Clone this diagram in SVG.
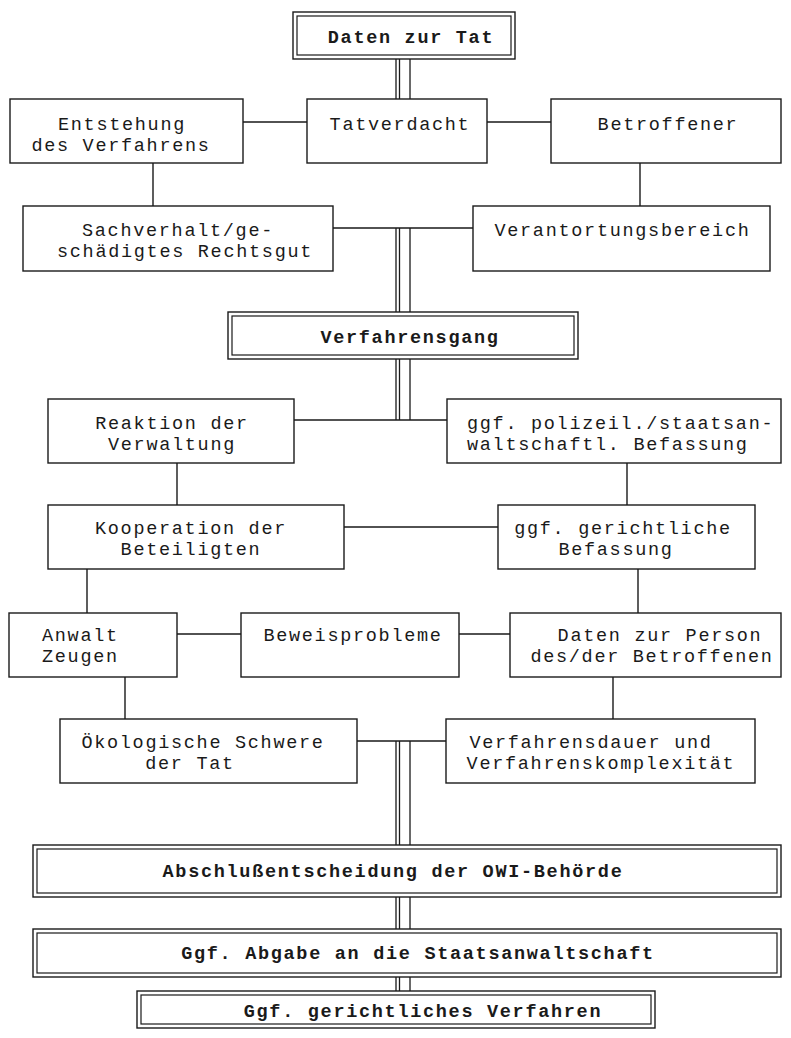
<svg xmlns="http://www.w3.org/2000/svg" width="791" height="1038" viewBox="0 0 791 1038">
<style>
.box{fill:#ffffff;stroke:#1a1a1a;stroke-width:1.4}
.in{fill:none;stroke:#1a1a1a;stroke-width:1.2}
.t{font-family:"Liberation Mono","Courier New",monospace;font-size:18.5px;letter-spacing:1.7px;fill:#1a1a1a}
.m{text-anchor:middle}
.b{font-weight:bold}
.c{stroke:#1a1a1a;stroke-width:1.4;fill:none}
.tr{stroke:#1a1a1a;stroke-width:1.3;fill:none}
</style>
<rect width="791" height="1038" fill="#ffffff"/>
<g id="connectors">
<path class="c" d="M243 122H307M487 122H551M153 163V206M640 163V206M333 228H473M294 420H447M177 463V505M627 463V505M344 527H498M87 569V613M638 569V613M177 634H241M459 634H510M125 677V719M613 677V719M357 741H446"/>
<path class="tr" d="M396 59V99M399.5 59V99M410 59V99M396 228V312M399.5 228V312M410 228V312M396 359V420M399.5 359V420M410 359V420M396 741V845M399.5 741V845M410 741V845M396 897V929M399.5 897V929M410 897V929M396 977V991M399.5 977V991M410 977V991"/>
</g>
<g id="daten-tat"><rect class="box" x="293" y="12" width="222" height="47"/><rect class="in" x="297" y="16" width="214" height="39"/><text class="t b m" x="411" y="43">Daten zur Tat</text></g>
<g id="entstehung"><rect class="box" x="10" y="99" width="233" height="64"/><text class="t m" x="122" y="130">Entstehung</text><text class="t m" x="121" y="151">des Verfahrens</text></g>
<g id="tatverdacht"><rect class="box" x="307" y="99" width="180" height="64"/><text class="t m" x="400" y="130">Tatverdacht</text></g>
<g id="betroffener"><rect class="box" x="551" y="99" width="230" height="64"/><text class="t m" x="668" y="130">Betroffener</text></g>
<g id="sachverhalt"><rect class="box" x="23" y="206" width="310" height="65"/><text class="t" x="82" y="236">Sachverhalt/ge-</text><text class="t" x="57" y="257">schädigtes Rechtsgut</text></g>
<g id="verantortungsbereich"><rect class="box" x="473" y="206" width="297" height="65"/><text class="t m" x="622.5" y="236">Verantortungsbereich</text></g>
<g id="verfahrensgang"><rect class="box" x="228" y="312" width="350" height="47"/><rect class="in" x="232" y="316" width="342" height="39"/><text class="t b m" x="410" y="343">Verfahrensgang</text></g>
<g id="reaktion"><rect class="box" x="48" y="399" width="246" height="64"/><text class="t m" x="172" y="429">Reaktion der</text><text class="t m" x="172" y="450">Verwaltung</text></g>
<g id="polizeil"><rect class="box" x="447" y="399" width="334" height="64"/><text class="t" x="467" y="429">ggf. polizeil./staatsan-</text><text class="t" x="467" y="450">waltschaftl. Befassung</text></g>
<g id="kooperation"><rect class="box" x="48" y="505" width="296" height="64"/><text class="t m" x="191" y="534">Kooperation der</text><text class="t m" x="191" y="555">Beteiligten</text></g>
<g id="gerichtliche-befassung"><rect class="box" x="498" y="505" width="257" height="64"/><text class="t m" x="623" y="534">ggf. gerichtliche</text><text class="t m" x="616" y="555">Befassung</text></g>
<g id="anwalt"><rect class="box" x="9" y="613" width="168" height="64"/><text class="t" x="42" y="641">Anwalt</text><text class="t" x="42" y="662">Zeugen</text></g>
<g id="beweisprobleme"><rect class="box" x="241" y="613" width="218" height="64"/><text class="t m" x="353" y="641">Beweisprobleme</text></g>
<g id="person"><rect class="box" x="510" y="613" width="271" height="64"/><text class="t m" x="660" y="641">Daten zur Person</text><text class="t m" x="652" y="662">des/der Betroffenen</text></g>
<g id="oekologisch"><rect class="box" x="60" y="719" width="297" height="64"/><text class="t m" x="203" y="748">Ökologische Schwere</text><text class="t m" x="190" y="769">der Tat</text></g>
<g id="dauer"><rect class="box" x="446" y="719" width="309" height="64"/><text class="t m" x="591" y="748">Verfahrensdauer und</text><text class="t m" x="601" y="769">Verfahrenskomplexität</text></g>
<g id="abschluss"><rect class="box" x="33" y="845" width="748" height="52"/><rect class="in" x="37" y="849" width="740" height="44"/><text class="t b m" x="393" y="877">Abschlußentscheidung der OWI-Behörde</text></g>
<g id="abgabe"><rect class="box" x="33" y="929" width="748" height="48"/><rect class="in" x="37" y="933" width="740" height="40"/><text class="t b m" x="418" y="959">Ggf. Abgabe an die Staatsanwaltschaft</text></g>
<g id="gerichtliches-verfahren"><rect class="box" x="137" y="991" width="518" height="37"/><rect class="in" x="141" y="995" width="510" height="29"/><text class="t b m" x="423" y="1017">Ggf. gerichtliches Verfahren</text></g>
</svg>
